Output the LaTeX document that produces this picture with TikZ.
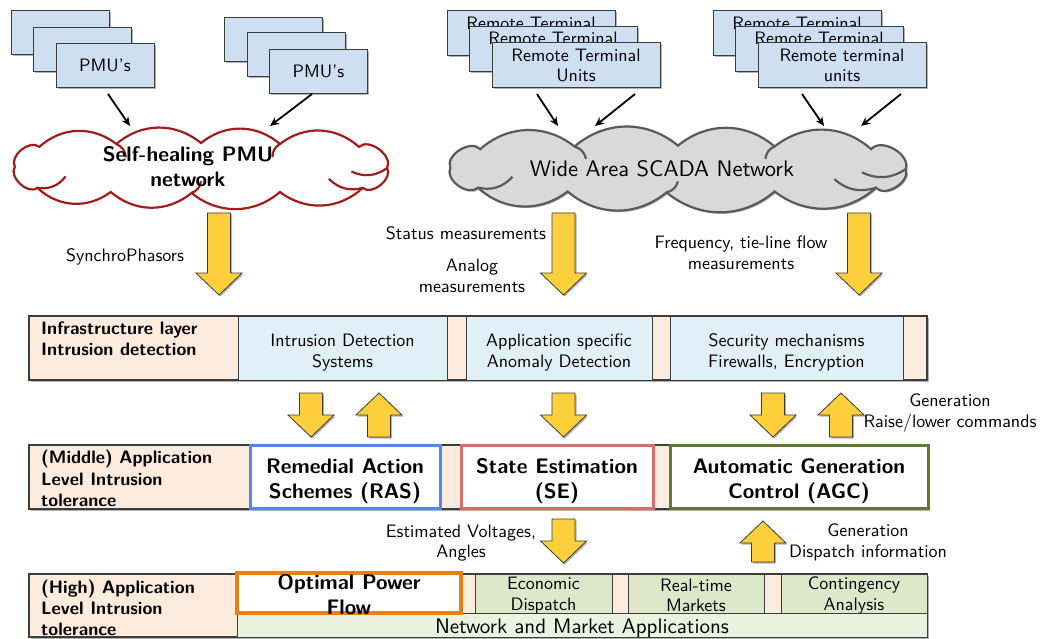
\documentclass[tikz,border=0pt]{standalone}
\usepackage{fontspec}
\setsansfont{lmsans10-regular.otf}[BoldFont=lmsans10-bold.otf]
\usetikzlibrary{shadows,arrows.meta}
\definecolor{boxblue}{RGB}{207,223,242}
\definecolor{rowpeach}{RGB}{253,236,222}
\definecolor{idsblue}{RGB}{225,240,246}
\definecolor{appgreen}{RGB}{221,232,203}
\definecolor{nmagreen}{RGB}{236,242,224}
\definecolor{yarrow}{RGB}{253,207,58}
\definecolor{cloudred}{RGB}{160,30,25}
\definecolor{cloudgray}{RGB}{217,217,217}
\definecolor{cloudedge}{RGB}{90,90,90}
\definecolor{rasblue}{RGB}{77,136,245}
\definecolor{sered}{RGB}{214,110,108}
\definecolor{agcgreen}{RGB}{96,122,54}
\definecolor{opforange}{RGB}{232,128,20}
\definecolor{edge}{RGB}{60,60,60}
\tikzset{
  nf/.style={font=\sffamily\fontsize{18}{20.5}\selectfont},
  bf/.style={font=\sffamily\bfseries\fontsize{21}{25}\selectfont},
  lf/.style={font=\sffamily\bfseries\fontsize{18}{21}\selectfont},
  shad/.style={drop shadow={shadow xshift=1.5pt,shadow yshift=-1.5pt,opacity=0.3,fill=black}},
  devbox/.style={draw=edge,line width=1pt,fill=boxblue,minimum width=98pt,minimum height=44pt,inner sep=0pt,nf,align=center,shad},
  rtubox/.style={devbox,minimum width=168pt,minimum height=45pt},
  rowbox/.style={draw=edge,line width=1.1pt,fill=rowpeach,inner sep=0pt,minimum height=64pt,shad},
  cellbox/.style={draw=edge,line width=1pt,inner sep=0pt},
  keybox/.style={line width=3pt,fill=white,inner sep=0pt,minimum height=63pt},
  rowlabel/.style={lf,align=left,anchor=west,inner sep=0pt},
  lbl/.style={nf,align=center,inner sep=0pt},
  keylbl/.style={bf,align=center,inner sep=0pt},
  yarr/.style={draw=edge,line width=0.8pt,fill=yarrow,shad},
  thinarr/.style={line width=1.8pt,-{Stealth[length=9pt,width=8pt]}},
  puff/.style={bend left=40},
  sidepuff/.style={bend left=80},
  curlA/.style={bend right=30},
  curlB/.style={bend left=30},
}
% down arrow: x, top, tip ; up arrow: x, tip, bottom
\newcommand\yardown[3]{\path[yarr] (#1-11.5,#2) -- (#1+11.5,#2) -- (#1+11.5,#3-22) -- (#1+23,#3-22) -- (#1,#3) -- (#1-23,#3-22) -- (#1-11.5,#3-22) -- cycle;}
\newcommand\yarup[3]{\path[yarr] (#1-11.5,#3) -- (#1+11.5,#3) -- (#1+11.5,#2+22) -- (#1+23,#2+22) -- (#1,#2) -- (#1-23,#2+22) -- (#1-11.5,#2+22) -- cycle;}
% cloud: cx, cy, sx, sy, outline style, curl style
\newcommand\cloudpath[6]{%
  \coordinate (c0) at ({#1+#3*(-0.99)},{#2+#4*(-0.05)});
  \coordinate (c1) at ({#1+#3*(-0.86)},{#2+#4*(-0.88)});
  \coordinate (c2) at ({#1+#3*(-0.45)},{#2+#4*(-1.00)});
  \coordinate (c3) at ({#1+#3*(0.0)},{#2+#4*(-1.04)});
  \coordinate (c4) at ({#1+#3*(0.42)},{#2+#4*(-1.00)});
  \coordinate (c5) at ({#1+#3*(0.84)},{#2+#4*(-0.88)});
  \coordinate (c6) at ({#1+#3*(0.99)},{#2+#4*(0.0)});
  \coordinate (c7) at ({#1+#3*(0.86)},{#2+#4*(0.83)});
  \coordinate (c8) at ({#1+#3*(0.42)},{#2+#4*(1.00)});
  \coordinate (c9) at ({#1+#3*(-0.05)},{#2+#4*(1.04)});
  \coordinate (c10) at ({#1+#3*(-0.48)},{#2+#4*(1.00)});
  \coordinate (c11) at ({#1+#3*(-0.87)},{#2+#4*(0.83)});
  \path[#5] (c0) to[sidepuff] (c1) to[puff] (c2) to[puff] (c3) to[puff] (c4) to[puff] (c5)
     to[sidepuff] (c6) to[sidepuff] (c7) to[puff] (c8) to[puff] (c9) to[puff] (c10) to[puff] (c11)
     to[sidepuff] (c0) -- cycle;
  \coordinate (k0) at ({#1+#3*(-0.72)},{#2+#4*(0.35)});
  \coordinate (k2) at ({#1+#3*(-0.40)},{#2+#4*(-0.45)});
  \coordinate (k4) at ({#1+#3*(0.38)},{#2+#4*(-0.45)});
  \coordinate (k6) at ({#1+#3*(0.80)},{#2+#4*(0.15)});
  \coordinate (k7) at ({#1+#3*(0.68)},{#2+#4*(0.45)});
  \coordinate (k9) at ({#1+#3*(0.0)},{#2+#4*(0.55)});
  \draw[#6] (c11) to[curlA] (k0);
  \draw[#6] (c2) to[curlB] (k2);
  \draw[#6] (c4) to[curlA] (k4);
  \draw[#6] (c6) to[curlB] (k6);
  \draw[#6] (c7) to[curlB] (k7);
  \draw[#6] (c9) to[curlA] (k9);
}
\begin{document}
\begin{tikzpicture}[x=1pt,y=-1pt]
\useasboundingbox[fill=white] (0,0) rectangle (1041,639);

% PMU stacks
\node[devbox] (pmuA1) at (60,33) {};
\node[devbox] (pmuA2) at (82,49.5) {};
\node[devbox] (pmuA3) at (105,65.5) {PMU's};
\node[devbox] (pmuB1) at (273,39.5) {};
\node[devbox] (pmuB2) at (296,55) {};
\node[devbox] (pmuB3) at (318.5,71.5) {PMU's};

% RTU stacks
\node[rtubox] (rtuA1) at (531,33.5) {Remote Terminal\\Units};
\node[rtubox] (rtuA2) at (553,49) {Remote Terminal\\Units};
\node[rtubox] (rtuA3) at (576,65.5) {Remote Terminal\\Units};
\node[rtubox] (rtuB1) at (797,33.5) {Remote Terminal\\Units};
\node[rtubox] (rtuB2) at (819,49) {Remote Terminal\\Units};
\node[rtubox] (rtuB3) at (842,65.5) {Remote terminal\\units};

% clouds
\cloudpath{201}{168}{188}{24}{draw=cloudred,fill=white,line width=2.2pt}{draw=cloudred,line width=2.2pt}
\node[keylbl] (pmunet) at (188,167) {Self-healing PMU\\network};
\cloudpath{678}{169}{230}{22.5}{draw=cloudedge,fill=cloudgray,line width=2.2pt,shad}{draw=cloudedge,line width=2.2pt}
\node[lbl,font=\sffamily\fontsize{22.5}{26}\selectfont] (scada) at (662,169) {Wide Area SCADA Network};

% thin arrows into clouds
\coordinate (a1s) at (108,94); \coordinate (a1e) at (130,126);
\coordinate (a2s) at (312,94); \coordinate (a2e) at (270,126);
\coordinate (a3s) at (537,94); \coordinate (a3e) at (558,126);
\coordinate (a4s) at (635,94); \coordinate (a4e) at (595,126);
\coordinate (a5s) at (802,94); \coordinate (a5e) at (824,126);
\coordinate (a6s) at (901,94); \coordinate (a6e) at (861,126);
\draw[thinarr] (a1s) -- (a1e);
\draw[thinarr] (a2s) -- (a2e);
\draw[thinarr] (a3s) -- (a3e);
\draw[thinarr] (a4s) -- (a4e);
\draw[thinarr] (a5s) -- (a5e);
\draw[thinarr] (a6s) -- (a6e);

% big yellow arrows
\yardown{219}{213}{295}
\yardown{563.5}{213}{295}
\yardown{859}{213}{295}
\node[lbl] (synlbl) at (125,257) {SynchroPhasors};
\node[lbl] (statlbl) at (466,233) {Status measurements};
\node[lbl] (anlbl) at (472,276) {Analog\\measurements};
\node[lbl] (freqlbl) at (741,253) {Frequency, tie-line flow\\measurements};

% infrastructure row
\node[rowbox,minimum width=898pt] (infra) at (478,348) {};
\node[cellbox,fill=idsblue,minimum width=209pt,minimum height=64pt] (ids) at (342.5,348) {};
\node[cellbox,fill=idsblue,minimum width=186pt,minimum height=64pt] (anom) at (559,348) {};
\node[cellbox,fill=idsblue,minimum width=233pt,minimum height=64pt] (sec) at (786.5,348) {};
\node[lbl] (idst) at (342.5,352.5) {Intrusion Detection\\Systems};
\node[lbl] (anomt) at (559,352.5) {Application specific\\Anomaly Detection};
\node[lbl] (sect) at (786.5,352.5) {Security mechanisms\\Firewalls, Encryption};
\node[rowlabel] (infralbl) at (41,339) {Infrastructure layer\\Intrusion detection};

% small arrows between infra and middle
\yardown{311}{393}{437}
\yarup{379}{393}{437}
\yardown{563.5}{393}{437}
\yardown{773}{393}{437}
\yarup{841}{393}{437}
\node[lbl] (genlbl) at (950,413) {Generation\\Raise/lower commands};

% middle row
\node[rowbox,minimum width=899pt] (mid) at (478.5,477) {};
\node[keybox,draw=rasblue,minimum width=190pt] (ras) at (345,476.5) {};
\node[keybox,draw=sered,minimum width=192pt] (se) at (557,476.5) {};
\node[keybox,draw=agcgreen,minimum width=258pt] (agc) at (799,476.5) {};
\node[keylbl] (rast) at (345,481.5) {Remedial Action\\Schemes (RAS)};
\node[keylbl] (set) at (557,481.5) {State Estimation\\(SE)};
\node[keylbl] (agct) at (799,481.5) {Automatic Generation\\Control (AGC)};
\node[rowlabel,font=\sffamily\bfseries\fontsize{18}{21.5}\selectfont] (midlbl) at (41,478.5) {(Middle) Application\\Level Intrusion\\tolerance};

% arrows between middle and bottom
\yardown{563.5}{519}{563}
\yarup{763}{521}{562}
\node[lbl] (estlbl) at (461,543) {Estimated Voltages,\\Angles};
\node[lbl] (displbl) at (868,542.5) {Generation\\Dispatch information};

% bottom row
\node[rowbox,minimum width=898pt,minimum height=63pt] (high) at (478,605.5) {};
\node[cellbox,fill=appgreen,minimum width=137pt,minimum height=39pt] (econ) at (543.5,593.5) {};
\node[cellbox,fill=appgreen,minimum width=136pt,minimum height=39pt] (rtm) at (696,593.5) {};
\node[cellbox,fill=appgreen,minimum width=146pt,minimum height=39pt] (cont) at (854,593.5) {};
\node[lbl] (econt) at (543.5,595.5) {Economic\\Dispatch};
\node[lbl] (rtmt) at (696,595.5) {Real-time\\Markets};
\node[lbl] (contt) at (854,595.5) {Contingency\\Analysis};
\node[cellbox,fill=nmagreen,minimum width=690pt,minimum height=24pt] (nma) at (582,625) {};
\node[lbl,font=\sffamily\fontsize{21}{24}\selectfont] (nmat) at (582,628) {Network and Market Applications};
\node[draw=opforange,line width=4pt,fill=white,inner sep=0pt,minimum width=224pt,minimum height=40pt] (opf) at (349,593) {};
\node[keylbl] (opft) at (349,595) {Optimal Power\\Flow};
\node[rowlabel,font=\sffamily\bfseries\fontsize{18}{21}\selectfont] (highlbl) at (41,608) {(High) Application\\Level Intrusion\\tolerance};
\end{tikzpicture}
\end{document}
